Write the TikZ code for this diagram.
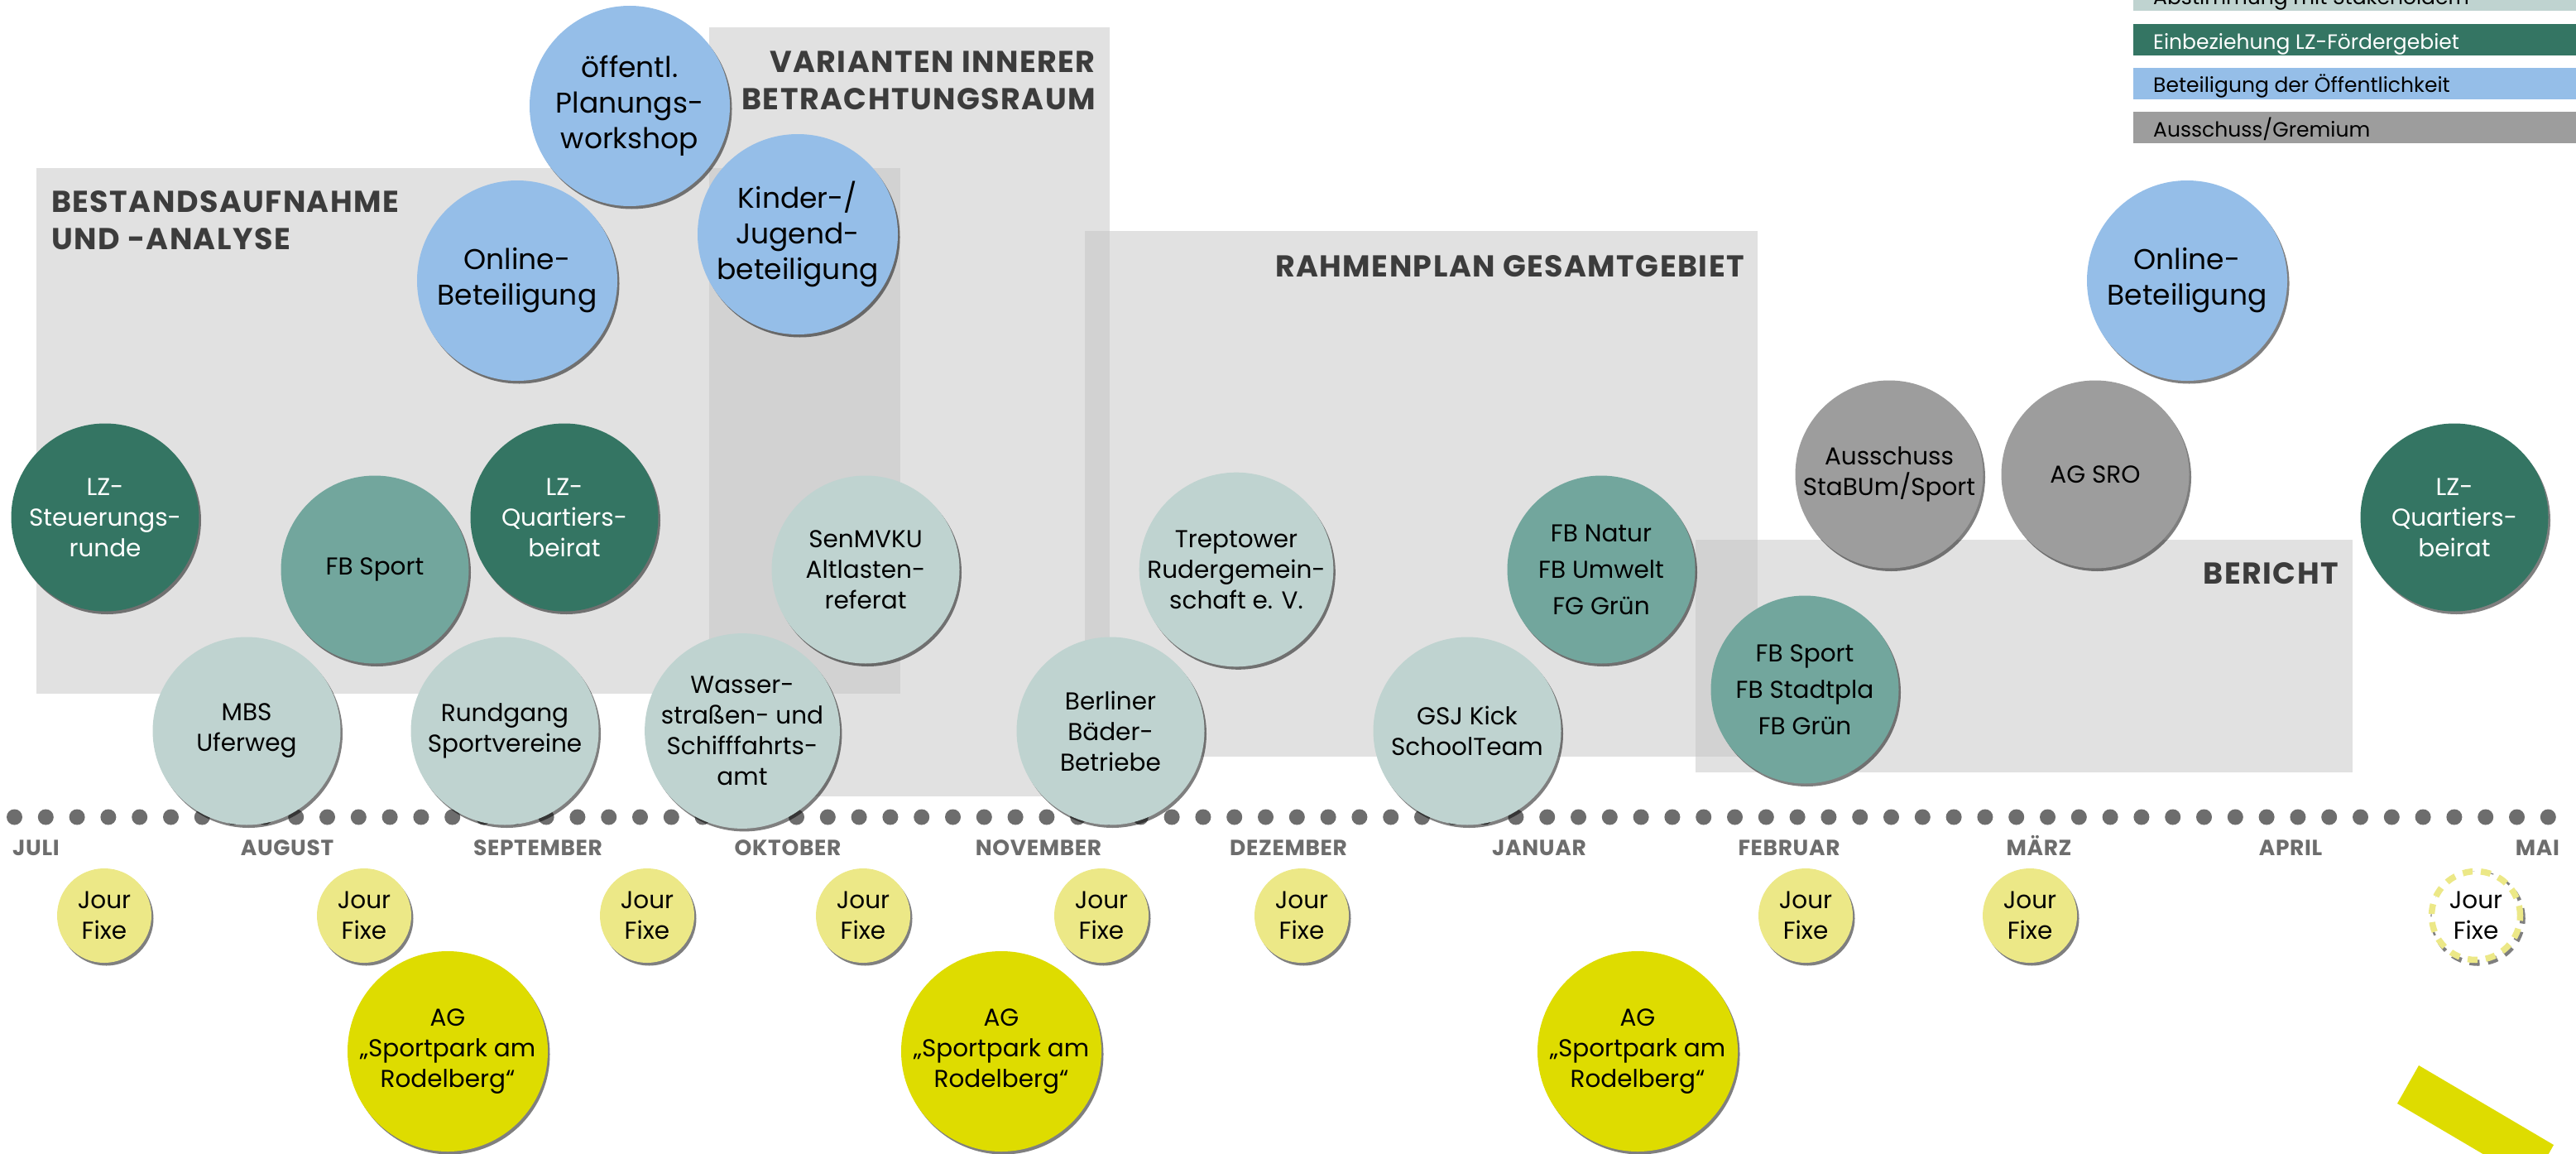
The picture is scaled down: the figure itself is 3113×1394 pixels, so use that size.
\documentclass[tikz,border=0pt]{standalone}
\usepackage{fontspec}
\setmainfont{Poppins}
\usetikzlibrary{shadows}
\definecolor{dkgreen}{HTML}{347563}
\definecolor{tealc}{HTML}{72A69D}
\definecolor{lightgr}{HTML}{BFD3D0}
\definecolor{bluec}{HTML}{95BEE8}
\definecolor{grayc}{HTML}{9D9D9D}
\definecolor{ylight}{HTML}{ECE887}
\definecolor{ystrong}{HTML}{DEDC00}
\definecolor{rectc}{HTML}{C3C3C3}
\definecolor{headc}{HTML}{3C3C3C}
\definecolor{monthc}{HTML}{6D6D6D}
\begin{document}
\begin{tikzpicture}[x=1pt,y=-1pt,
  shad/.style={drop shadow={shadow xshift=2.5pt,shadow yshift=-3.5pt,fill=black,opacity=0.5}},
  bub/.style={circle,inner sep=0pt,outer sep=0pt,shad,align=center,text=black},
  bigbub/.style={bub,minimum size=242pt,fill=bluec,font=\fontsize{34.5}{43}\selectfont},
  smallbub/.style={bub,minimum size=227pt,font=\fontsize{29.5}{37}\selectfont},
  lzbub/.style={smallbub,fill=dkgreen,text=white},
  fbbub/.style={smallbub,fill=tealc},
  fbbubw/.style={smallbub,fill=tealc,font=\fontsize{29.5}{44}\selectfont},
  stbub/.style={smallbub,fill=lightgr},
  grbub/.style={smallbub,fill=grayc},
  jfbub/.style={bub,minimum size=114pt,fill=ylight,font=\fontsize{29.5}{37}\selectfont},
  agbub/.style={bub,minimum size=242pt,fill=ystrong,font=\fontsize{29.5}{37}\selectfont},
  phase/.style={fill=rectc,opacity=0.5},
  heading/.style={inner sep=0pt,text=headc,font=\bfseries\fontsize{36.5}{45}\selectfont\addfontfeature{LetterSpace=4}},
  month/.style={inner sep=0pt,text=monthc,font=\bfseries\fontsize{26.5}{30}\selectfont\addfontfeature{LetterSpace=2.5}},
  legtext/.style={inner sep=0pt,anchor=base west,font=\fontsize{25}{30}\selectfont},
]
\useasboundingbox (0,0) rectangle (3113,1394);
\clip (0,0) rectangle (3113,1394);

% phase rectangles
\fill[phase] (44,203) rectangle (1088,838);
\fill[phase] (857,33) rectangle (1341,962);
\fill[phase] (1311,279) rectangle (2124,914);
\fill[phase] (2049,652) rectangle (2843,933);

% headings
\node[heading,anchor=north west,align=left] (hbest) at (62,230) {BESTANDSAUFNAHME\\UND -ANALYSE};
\node[heading,anchor=north east,align=right] (hvar) at (1324,62) {VARIANTEN INNERER\\BETRACHTUNGSRAUM};
\node[heading,anchor=north east,align=right] (hrahm) at (2108,308) {RAHMENPLAN GESAMTGEBIET};
\node[heading,anchor=north east,align=right] (hber) at (2826,679) {BERICHT};

% timeline dots
\foreach \i in {0,...,81} \fill[monthc] (17.5+37.8*\i,987) circle (9.5);

% blue circles
\node[bigbub] (oeff) at (761,128) {öffentl.\\Planungs-\\workshop};
\node[bigbub] (onl1) at (625,339) {Online-\\Beteiligung};
\node[bigbub] (kind) at (964,283) {Kinder-/\\Jugend-\\beteiligung};
\node[bigbub] (onl2) at (2643,339) {Online-\\Beteiligung};

% dark green circles
\node[lzbub] (lzs) at (127,625) {LZ-\\Steuerungs-\\runde};
\node[lzbub] (lzq1) at (682,625) {LZ-\\Quartiers-\\beirat};
\node[lzbub] (lzq2) at (2966,625) {LZ-\\Quartiers-\\beirat};

% teal circles
\node[fbbub] (fbs) at (453,688) {FB Sport};
\node[fbbubw] (fbn) at (1935,688) {FB Natur\\FB Umwelt\\FG Grün};
\node[fbbubw] (fbs2) at (2181,833) {FB Sport\\FB Stadtpla\\FB Grün};

% stakeholder circles
\node[stbub] (mbs) at (298,883) {MBS\\Uferweg};
\node[stbub] (rund) at (610,883) {Rundgang\\Sportvereine};
\node[stbub] (wass) at (897,883) {Wasser-\\straßen- und\\Schifffahrts-\\amt};
\node[stbub] (senm) at (1046,688) {SenMVKU\\Altlasten-\\referat};
\node[stbub] (berl) at (1342,883) {Berliner\\Bäder-\\Betriebe};
\node[stbub] (trep) at (1494,688) {Treptower\\Rudergemein-\\schaft e. V.};
\node[stbub] (gsj) at (1773,883) {GSJ Kick\\SchoolTeam};

% gray circles
\node[grbub] (auss) at (2283,573) {Ausschuss\\StaBUm/Sport};
\node[grbub] (agsro) at (2532,573) {AG SRO};

% month labels
\node[month,anchor=base west] (mjul) at (15,1033) {JULI};
\node[month,anchor=base] (maug) at (347,1033) {AUGUST};
\node[month,anchor=base] (msep) at (650,1033) {SEPTEMBER};
\node[month,anchor=base] (mokt) at (952,1033) {OKTOBER};
\node[month,anchor=base] (mnov) at (1255,1033) {NOVEMBER};
\node[month,anchor=base] (mdez) at (1557,1033) {DEZEMBER};
\node[month,anchor=base] (mjan) at (1860,1033) {JANUAR};
\node[month,anchor=base] (mfeb) at (2162,1033) {FEBRUAR};
\node[month,anchor=base] (mmar) at (2464,1033) {MÄRZ};
\node[month,anchor=base] (mapr) at (2768,1033) {APRIL};
\node[month,anchor=base east] (mmai) at (3093,1033) {MAI};

% Jour Fixe
\node[jfbub] (jf1) at (126,1106) {Jour\\Fixe};
\node[jfbub] (jf2) at (440,1106) {Jour\\Fixe};
\node[jfbub] (jf3) at (782,1106) {Jour\\Fixe};
\node[jfbub] (jf4) at (1043,1106) {Jour\\Fixe};
\node[jfbub] (jf5) at (1331,1106) {Jour\\Fixe};
\node[jfbub] (jf6) at (1573,1106) {Jour\\Fixe};
\node[jfbub] (jf7) at (2182,1106) {Jour\\Fixe};
\node[jfbub] (jf8) at (2453,1106) {Jour\\Fixe};
\node[circle,inner sep=0pt,minimum size=107pt,draw=black,draw opacity=0.5,line width=7.5pt,dash pattern=on 12pt off 10pt] (jf9s) at (2994.5,1109.5) {};
\node[circle,inner sep=0pt,minimum size=107pt,fill=white,draw=ylight,line width=7.5pt,dash pattern=on 12pt off 10pt,align=center,font=\fontsize{29.5}{37}\selectfont] (jf9) at (2992,1106) {Jour\\Fixe};

% AG Sportpark
\node[agbub] (ag1) at (541,1270) {AG\\„Sportpark am\\Rodelberg“};
\node[agbub] (ag2) at (1210,1270) {AG\\„Sportpark am\\Rodelberg“};
\node[agbub] (ag3) at (1979,1270) {AG\\„Sportpark am\\Rodelberg“};

% yellow band
\fill[ystrong] (2923,1287) -- (3086,1383) -- (3060,1429) -- (2897,1333) -- cycle;

% legend
\fill[lightgr] (2578,-24) rectangle (3113,13);
\node[legtext,text=black] (leg1) at (2602,6) {Abstimmung mit Stakeholdern};
\fill[dkgreen] (2578,29) rectangle (3113,67);
\node[legtext,text=white] (leg2) at (2602,60) {Einbeziehung LZ-Fördergebiet};
\fill[bluec] (2578,82) rectangle (3113,120);
\node[legtext,text=black] (leg3) at (2602,112) {Beteiligung der Öffentlichkeit};
\fill[grayc] (2578,135) rectangle (3113,173);
\node[legtext,text=black] (leg4) at (2602,165) {Ausschuss/Gremium};
\end{tikzpicture}
\end{document}
